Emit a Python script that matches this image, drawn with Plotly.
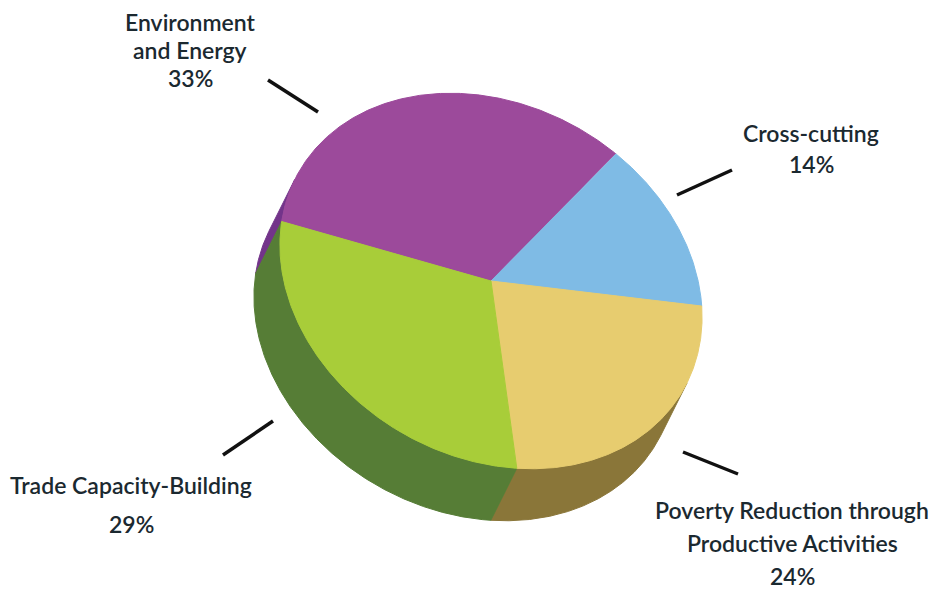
import numpy as np
import plotly.graph_objects as go

# ---------------- data ----------------
categories = ["Environment and Energy", "Cross-cutting",
              "Poverty Reduction through Productive Activities",
              "Trade Capacity-Building"]
values = [33, 14, 24, 29]
label_lines = [["Environment", "and Energy"],
               ["Cross-cutting"],
               ["Poverty Reduction through", "Productive Activities"],
               ["Trade Capacity-Building"]]
top_colors = ["#9c4a9b", "#7fbbe5", "#e7cc6f", "#a8cd39"]
side_colors = ["#73348a", "#4d86ad", "#8a7639", "#567d36"]

# ---------------- geometry / style ----------------
W, H = 938, 589
CX, CY = 491, 281          # centre of the top face
RA, RB = 221, 176          # ellipse semi-axes
TH = np.radians(29.3)      # tilt of the major axis
DX, DY = -26, 52           # extrusion (depth) vector
START = np.radians(163.3)  # parametric start angle of first slice

FONT = dict(family="Lato, 'Open Sans', sans-serif", size=23, color="#1b2930",
            weight=600)


def pt(t):
    x = CX + RA * np.cos(t) * np.cos(TH) - RB * np.sin(t) * np.sin(TH)
    y = CY + RA * np.cos(t) * np.sin(TH) + RB * np.sin(t) * np.cos(TH)
    return x, y


def visible(t):
    x, y = pt(t)
    tx = -RA * np.sin(t) * np.cos(TH) - RB * np.cos(t) * np.sin(TH)
    ty = -RA * np.sin(t) * np.sin(TH) + RB * np.cos(t) * np.cos(TH)
    nx, ny = ty, -tx
    s = np.sign(nx * (x - CX) + ny * (y - CY))
    nx, ny = nx * s, ny * s
    return nx * DX + ny * DY > 0


vals = np.array(values, dtype=float)
fr = vals / vals.sum()
edges = START + 2 * np.pi * np.concatenate([[0], np.cumsum(fr)])

fig = go.Figure()

# side walls first
for i, cat in enumerate(categories):
    ts = np.linspace(edges[i], edges[i + 1], 400)
    m = visible(ts)
    if not m.any():
        continue
    tv = ts[m]
    x, y = pt(tv)
    xs = np.concatenate([x, (x + DX)[::-1], [x[0]]])
    ys = np.concatenate([y, (y + DY)[::-1], [y[0]]])
    fig.add_trace(go.Scatter(x=xs, y=ys, mode="lines", fill="toself",
                             fillcolor=side_colors[i],
                             line=dict(color=side_colors[i], width=1),
                             hoverinfo="skip", showlegend=False))

# top faces
for i, cat in enumerate(categories):
    ts = np.linspace(edges[i], edges[i + 1], 300)
    x, y = pt(ts)
    xs = np.concatenate([[CX], x, [CX]])
    ys = np.concatenate([[CY], y, [CY]])
    fig.add_trace(go.Scatter(x=xs, y=ys, mode="lines", fill="toself",
                             fillcolor=top_colors[i],
                             line=dict(color=top_colors[i], width=1),
                             name=cat, text=f"{cat}: {values[i]}%",
                             hoverinfo="text", showlegend=False))

# labels: (centre x, first-line centre y, line spacing)
label_pos = [(190, 22, 28), (811, 133, 31), (792, 510, 33), (131, 485, 39)]
for i, lines in enumerate(label_lines):
    x0, y0, dy = label_pos[i]
    all_lines = lines + [f"{values[i]}%"]
    for j, txt in enumerate(all_lines):
        fig.add_annotation(x=x0, y=y0 + j * dy, text=txt, showarrow=False,
                           xanchor="center", yanchor="middle", font=FONT)

# leader lines
leaders = [((268, 80), (318, 112)), ((677, 195), (732, 170)),
           ((683, 452), (738, 474)), ((223, 455), (273, 421))]
for (x0, y0), (x1, y1) in leaders:
    fig.add_shape(type="line", x0=x0, y0=y0, x1=x1, y1=y1,
                  line=dict(color="#111111", width=3.5))

fig.update_layout(
    width=W, height=H, margin=dict(l=0, r=0, t=0, b=0),
    paper_bgcolor="white", plot_bgcolor="white", showlegend=False,
    xaxis=dict(range=[0, W], visible=False, fixedrange=True),
    yaxis=dict(range=[H, 0], visible=False, fixedrange=True),
)

fig.write_html("out.html")
